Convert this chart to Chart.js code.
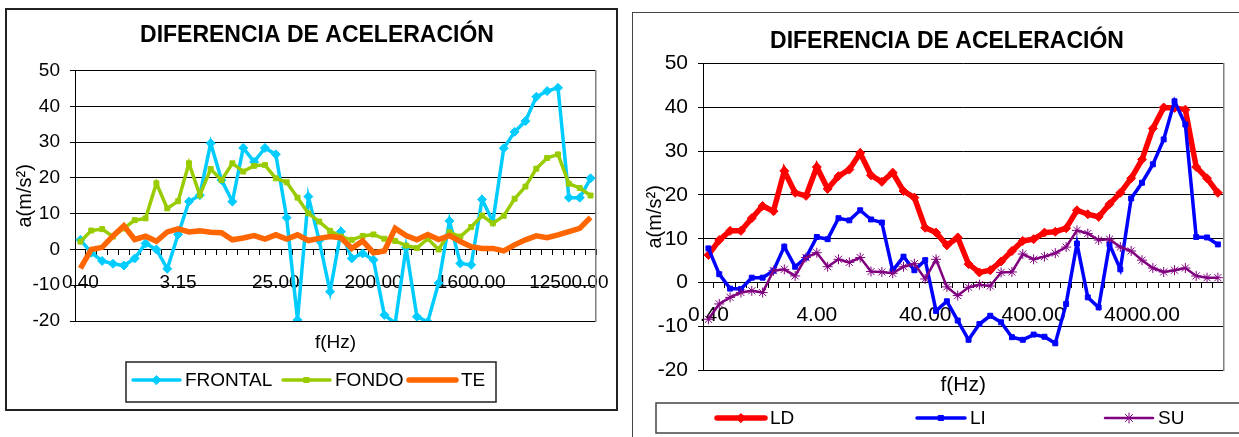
<!DOCTYPE html>
<html>
<head>
<meta charset="utf-8">
<script src="https://cdn.jsdelivr.net/npm/chart.js@4"></script>
<style>
  html, body { margin: 0; padding: 0; background: #fff; overflow: hidden; width: 1239px; height: 437px; }
  .frame { position: absolute; box-sizing: border-box; }
  #frameLeft { left: 5px; top: 8px; width: 613px; height: 403px; border: 2px solid #222; }
  #frameRight { left: 632px; top: 12px; width: 700px; height: 500px; border: 1.5px solid #444; }
  canvas { position: absolute; top: 0; }
  #chartLeft { left: 0; }
  #chartRight { left: 632px; }
</style>
</head>
<body>
<div class="frame" id="frameLeft"></div>
<div class="frame" id="frameRight"></div>
<canvas id="chartLeft" width="622" height="437"></canvas>
<canvas id="chartRight" width="607" height="437"></canvas>
<script>
// 1/3 octave band centre frequencies (Hz)
const frequencies = [0.4, 0.5, 0.63, 0.8, 1, 1.25, 1.6, 2, 2.5, 3.15, 4, 5, 6.3, 8, 10, 12.5, 16, 20, 25, 31.5,
  40, 50, 63, 80, 100, 125, 160, 200, 250, 315, 400, 500, 630, 800, 1000, 1250, 1600, 2000, 2500, 3150,
  4000, 5000, 6300, 8000, 10000, 12500, 16000, 20000];
const categories = frequencies.map(f => f.toFixed(2));

const tickLabelsLeft = ['0.40', '3.15', '25.00', '200.00', '1600.00', '12500.00'];
const tickLabelsRight = ['0.40', '4.00', '40.00', '400.00', '4000.00'];
const yTicks = [-20, -10, 0, 10, 20, 30, 40, 50];

// left chart
const frontal = [2.7, -0.9, -3.2, -4.0, -4.5, -2.5, 1.7, 0.0, -5.4, 4.2, 13.4, 15.2, 29.7, 19.4, 13.4, 28.4,
  24.5, 28.4, 26.6, 8.9, -19.7, 14.8, 2.5, -11.8, 5.0, -2.5, -1.1, -2.9, -18.3, -20.6, 0.5, -18.8,
  -20.2, -9.4, 8.0, -3.9, -4.3, 14.0, 7.8, 28.3, 32.9, 35.9, 42.7, 44.3, 45.2, 14.5, 14.5, 19.9];
const fondo = [2.2, 5.3, 5.7, 3.6, 5.9, 8.2, 8.7, 18.5, 11.5, 13.5, 24.1, 15.2, 22.5, 19.4, 24.1, 21.8,
  23.4, 23.6, 19.9, 18.8, 14.5, 10.1, 7.8, 5.2, 3.6, 2.7, 3.8, 4.2, 3.0, 2.4, 1.1, 0.4,
  3.0, 0.0, 4.8, 3.6, 6.3, 9.5, 7.3, 9.4, 14.2, 17.6, 22.6, 25.6, 26.6, 18.4, 17.2, 15.1];
const te = [-5.3, 0.0, 0.6, 3.8, 6.6, 2.8, 3.7, 2.3, 4.9, 5.8, 4.9, 5.2, 4.8, 4.7, 2.7, 3.2,
  3.9, 2.9, 4.1, 2.9, 4.1, 2.5, 3.1, 3.6, 3.3, 0.3, 2.4, -0.9, -0.4, 5.9, 3.9, 2.7,
  4.2, 2.8, 3.9, 2.2, 0.8, 0.3, 0.3, -0.4, 1.3, 2.7, 3.8, 3.3, 4.1, 5.0, 5.9, 9.0];

// right chart
const ld = [6.3, 9.7, 11.8, 11.8, 14.7, 17.5, 16.3, 25.5, 20.5, 19.8, 26.4, 21.4, 24.3, 25.8, 29.6, 24.5,
  23.0, 25.1, 20.9, 19.4, 12.5, 11.4, 8.5, 10.3, 4.2, 2.3, 2.8, 4.8, 7.2, 9.5, 9.9, 11.4,
  11.6, 12.4, 16.5, 15.6, 15.0, 17.9, 20.5, 23.8, 28.1, 35.2, 40.0, 39.9, 39.5, 26.4, 23.8, 20.5];
const li = [7.8, 1.9, -1.4, -1.5, 1.1, 1.1, 2.7, 8.2, 3.6, 5.7, 10.4, 9.9, 14.7, 14.2, 16.5, 14.4,
  13.7, 2.7, 5.9, 2.8, 5.1, -6.5, -4.3, -8.7, -13.1, -9.5, -7.6, -9.1, -12.5, -13.1, -11.9, -12.4,
  -13.9, -4.9, 8.9, -3.4, -5.7, 8.7, 3.0, 19.2, 22.8, 27.0, 32.7, 41.4, 36.1, 10.4, 10.3, 8.7];
const su = [-8.4, -4.9, -3.4, -2.3, -1.9, -2.3, 2.7, 3.0, 1.5, 5.7, 6.8, 3.6, 5.3, 4.6, 5.7, 2.5,
  2.4, 2.1, 3.6, 4.3, 0.8, 5.3, -1.0, -3.0, -1.1, -0.5, -0.8, 2.3, 2.4, 6.5, 5.3, 5.9,
  6.7, 8.1, 11.9, 11.2, 9.7, 9.9, 8.1, 7.2, 5.1, 3.3, 2.4, 2.8, 3.3, 1.5, 1.1, 1.1];

Chart.defaults.font.family = '"Liberation Sans", Arial, sans-serif';
Chart.defaults.color = '#000';

// boxed legend like the spreadsheet one
const boxLegend = {
    id: 'boxLegend',
    afterDraw(chart, args, opts) {
        const ctx = chart.ctx;
        ctx.save();
        ctx.strokeStyle = opts.borderColor;
        ctx.lineWidth = 1.5;
        ctx.strokeRect(opts.box[0], opts.box[1], opts.box[2], opts.box[3]);
        chart.data.datasets.forEach(function(ds, i) {
            const x = opts.items[i];
            const y = opts.y;
            ctx.strokeStyle = ds.borderColor;
            ctx.lineWidth = ds.borderWidth;
            ctx.lineCap = 'round';
            ctx.beginPath();
            ctx.moveTo(x, y);
            ctx.lineTo(x + opts.lineLength, y);
            ctx.stroke();
            if (Chart.helpers && Chart.helpers.drawPoint && ds.pointRadius > 0) {
                ctx.fillStyle = ds.pointBackgroundColor;
                ctx.strokeStyle = ds.pointBorderColor;
                ctx.lineWidth = ds.pointBorderWidth;
                Chart.helpers.drawPoint(ctx, {
                    pointStyle: ds.pointStyle, radius: ds.pointRadius,
                    rotation: 0, borderWidth: ds.pointBorderWidth
                }, x + opts.lineLength / 2, y);
            }
            ctx.fillStyle = '#000';
            ctx.font = opts.fontSize + 'px "Liberation Sans", Arial, sans-serif';
            ctx.textAlign = 'left';
            ctx.textBaseline = 'middle';
            ctx.fillText(ds.label, x + opts.lineLength + opts.gap, y + 1);
        });
        ctx.restore();
    }
};

function series(label, data, color, width, style, radius, order) {
    return {
        label: label, data: data, order: order,
        borderColor: color, backgroundColor: color, borderWidth: width,
        pointStyle: style, pointRadius: radius, pointBorderWidth: 1,
        pointBackgroundColor: color, pointBorderColor: color,
        tension: 0, fill: false,
        xAxisID: 'x', yAxisID: 'y'
    };
}

function makeOptions(cfg) {
    return {
        responsive: false,
        animation: false,
        events: [],
        layout: { padding: { left: cfg.padLeft, right: 0, top: 0, bottom: cfg.padBottom } },
        plugins: {
            legend: { display: false },
            tooltip: { enabled: false },
            title: {
                display: true,
                text: 'DIFERENCIA DE ACELERACIÓN',
                color: '#000',
                font: { size: 23, weight: 'bold' },
                padding: cfg.titlePadding
            },
            boxLegend: cfg.legend
        },
        scales: {
            x: {
                type: 'category',
                position: { y: 0 },
                offset: true,
                grid: { offset: true, drawOnChartArea: false, color: '#000', tickLength: 5 },
                border: { display: true, color: '#000', width: 1 },
                ticks: {
                    autoSkip: false, maxRotation: 0, minRotation: 0,
                    padding: cfg.xTickPadding,
                    font: { size: cfg.tickSize },
                    color: '#000',
                    callback: function(value, index) {
                        const lbl = categories[index];
                        return cfg.tickLabels.includes(lbl) ? lbl : '';
                    }
                },
                afterFit: function(scale) { scale.height = 0; }
            },
            x2: {
                type: 'category',
                position: 'bottom',
                offset: true,
                grid: { display: false },
                border: { display: false },
                ticks: { display: false },
                title: { display: true, text: 'f(Hz)', color: '#000', font: { size: cfg.tickSize }, padding: 0 },
                afterFit: function(scale) { scale.height = cfg.x2Height; }
            },
            y: {
                min: yTicks[0],
                max: yTicks[yTicks.length - 1],
                ticks: { stepSize: 10, padding: 10, font: { size: cfg.tickSize }, color: '#000' },
                grid: { color: '#000', tickLength: 5 },
                border: { display: true, color: '#000', width: 1 },
                title: { display: true, text: 'a(m/s²)', color: '#000', font: { size: 20 }, padding: { top: cfg.yTitlePad, bottom: 0 } },
                afterFit: function(scale) { scale.width = cfg.yWidth; }
            },
            y2: {
                position: 'right',
                display: true,
                grid: { display: false },
                ticks: { display: false },
                border: { display: true, color: '#808080', width: 1.5 },
                afterFit: function(scale) { scale.width = cfg.y2Width; }
            }
        }
    };
}

new Chart(document.getElementById('chartLeft').getContext('2d'), {
    type: 'line',
    data: {
        labels: categories,
        datasets: [
            series('FRONTAL', frontal, '#00CCFF', 3.5, 'rectRot', 4.5, 3),
            series('FONDO', fondo, '#99CC00', 3.5, 'rect', 3.5, 2),
            series('TE', te, '#FF6600', 5.5, 'circle', 0, 1)
        ]
    },
    options: makeOptions({
        padLeft: 12, padBottom: 83.2,
        titlePadding: { top: 22.2, bottom: 20.9 },
        tickSize: 19, xTickPadding: 17, tickLabels: tickLabelsLeft,
        x2Height: 32.8, yWidth: 63, y2Width: 26, yTitlePad: 1,
        legend: { box: [126, 362, 370, 40], items: [133, 283, 409], y: 380, lineLength: 47, gap: 5, fontSize: 19, borderColor: '#222' }
    }),
    plugins: [boxLegend]
});

new Chart(document.getElementById('chartRight').getContext('2d'), {
    type: 'line',
    data: {
        labels: categories,
        datasets: [
            series('LD', ld, '#FF0000', 5.5, 'rectRot', 4.5, 3),
            series('LI', li, '#0000FF', 3.5, 'rect', 3.5, 2),
            series('SU', su, '#800080', 2.5, 'star', 5, 1)
        ]
    },
    options: makeOptions({
        padLeft: 23, padBottom: 39.5,
        titlePadding: { top: 28.2, bottom: 7.9 },
        tickSize: 21, xTickPadding: 15.4, tickLabels: tickLabelsRight,
        x2Height: 27.5, yWidth: 48, y2Width: 15.7, yTitlePad: -12,
        legend: { box: [24, 403, 700, 30], items: [85, 285, 473], y: 418, lineLength: 48, gap: 5, fontSize: 19, borderColor: '#444' }
    }),
    plugins: [boxLegend]
});
</script>
</body>
</html>
